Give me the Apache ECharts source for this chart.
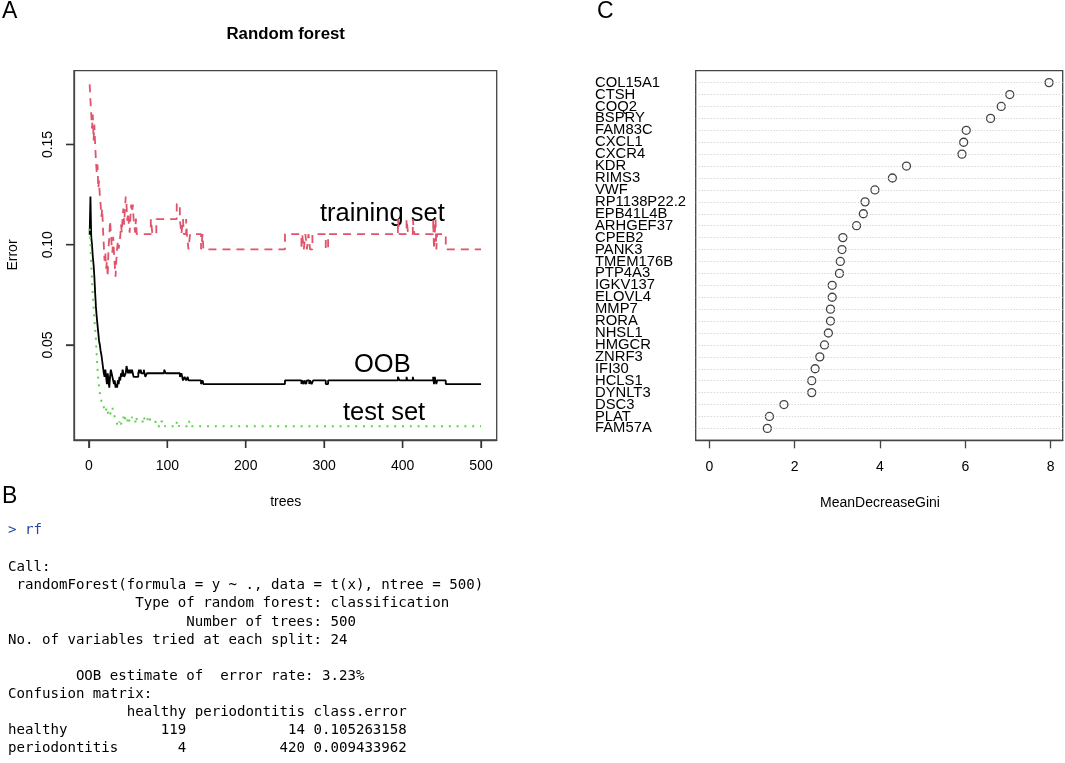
<!DOCTYPE html>
<html><head><meta charset="utf-8">
<script src="https://cdn.jsdelivr.net/npm/echarts@6/dist/echarts.min.js"></script>
<style>html,body{margin:0;padding:0;background:#fff}#c{width:1065px;height:763px}</style>
</head><body><div id="c"></div>
<script>
// Panel A: error rate vs number of trees (change points: [tree, error])
const trainingSet = [[1,0.180],[2,0.172],[3,0.165],[4,0.158],[5,0.165],[6,0.152],[7,0.160],[8,0.150],[9,0.142],[10,0.136],[11,0.140],[12,0.128],[13,0.132],[14,0.124],[15,0.120],[16,0.114],[17,0.118],[18,0.108],[19,0.100],[20,0.092],[21,0.096],[22,0.088],[23,0.092],[24,0.084],[25,0.098],[26,0.104],[27,0.112],[28,0.106],[29,0.100],[30,0.096],[31,0.104],[32,0.096],[33,0.090],[34,0.084],[35,0.092],[36,0.098],[37,0.102],[38,0.098],[40,0.104],[41,0.110],[42,0.106],[43,0.114],[44,0.118],[45,0.110],[46,0.118],[47,0.124],[48,0.120],[49,0.112],[50,0.116],[51,0.110],[52,0.106],[53,0.114],[54,0.120],[55,0.116],[56,0.120],[57,0.113],[59,0.106],[60,0.113],[61,0.1053],[79,0.1128],[81,0.1053],[86,0.1128],[112,0.1203],[116,0.1128],[118,0.1053],[120,0.1128],[121,0.1053],[124,0.1128],[125,0.1053],[127,0.0977],[129,0.1053],[143,0.0977],[145,0.1053],[146,0.0977],[250,0.1053],[271,0.0977],[272,0.1053],[274,0.0977],[276,0.1053],[278,0.0977],[280,0.1053],[282,0.0977],[285,0.1053],[302,0.0977],[305,0.1053],[394,0.1128],[396,0.1053],[405,0.1128],[407,0.1053],[413,0.1128],[415,0.1053],[439,0.1128],[440,0.0977],[442,0.1128],[443,0.0977],[444,0.1053],[455,0.0977],[500,0.0977]];
const oob = [[1,0.105],[2,0.124],[3,0.104],[4,0.100],[5,0.094],[6,0.090],[7,0.084],[8,0.076],[9,0.069],[10,0.064],[11,0.060],[12,0.056],[13,0.052],[14,0.050],[15,0.047],[16,0.045],[17,0.042],[18,0.039],[19,0.036],[20,0.0341],[21,0.0377],[22,0.0341],[23,0.0305],[24,0.0359],[25,0.0323],[26,0.0287],[27,0.0341],[28,0.0377],[29,0.0359],[30,0.0341],[31,0.0323],[32,0.0305],[33,0.0323],[34,0.0287],[35,0.0305],[36,0.0287],[37,0.0323],[38,0.0305],[39,0.0341],[40,0.0323],[41,0.0359],[42,0.0341],[43,0.0377],[44,0.0359],[45,0.0341],[47,0.0359],[48,0.0395],[49,0.0377],[50,0.0359],[51,0.0377],[52,0.0359],[53,0.0377],[54,0.0359],[55,0.0377],[56,0.0359],[57,0.0341],[63,0.0359],[64,0.0377],[65,0.0359],[66,0.0377],[67,0.0359],[70,0.0377],[71,0.0359],[72,0.0341],[74,0.0359],[96,0.0377],[98,0.0359],[116,0.0341],[118,0.0359],[120,0.0323],[122,0.0341],[124,0.0323],[126,0.0341],[127,0.0323],[143,0.0305],[145,0.0323],[146,0.0305],[250,0.0323],[271,0.0305],[272,0.0323],[274,0.0305],[275,0.0323],[277,0.0305],[278,0.0323],[281,0.0305],[282,0.0323],[284,0.0305],[286,0.0323],[302,0.0305],[305,0.0323],[394,0.0341],[396,0.0323],[405,0.0341],[406,0.0323],[413,0.0341],[414,0.0323],[439,0.0341],[440,0.0305],[441,0.0341],[443,0.0305],[444,0.0323],[455,0.0305],[500,0.0305]];
const testSet = [[1,0.108],[2,0.100],[3,0.090],[4,0.082],[5,0.075],[6,0.069],[7,0.063],[8,0.058],[9,0.053],[10,0.045],[11,0.038],[12,0.033],[13,0.029],[14,0.026],[15,0.024],[16,0.022],[17,0.0212],[19,0.0189],[21,0.0165],[23,0.0189],[24,0.0165],[26,0.0142],[28,0.0165],[30,0.0189],[31,0.0165],[33,0.0142],[35,0.0118],[37,0.0094],[39,0.0118],[40,0.0094],[42,0.0118],[44,0.0142],[45,0.0118],[47,0.0142],[49,0.0118],[50,0.0142],[52,0.0118],[55,0.0142],[56,0.0118],[60,0.0142],[62,0.0118],[70,0.0142],[72,0.0118],[75,0.0142],[78,0.0118],[85,0.0094],[92,0.0118],[97,0.0094],[112,0.0118],[115,0.0094],[125,0.0118],[128,0.0094],[500,0.0094]];
const treeTicks = [0,100,200,300,400,500];
const errorTicks = [0.05,0.10,0.15];

// Panel C: variable importance (top to bottom)
const genes = ['COL15A1','CTSH','COQ2','BSPRY','FAM83C','CXCL1','CXCR4','KDR','RIMS3','VWF','RP1138P22.2','EPB41L4B','ARHGEF37','CPEB2','PANK3','TMEM176B','PTP4A3','IGKV137','ELOVL4','MMP7','RORA','NHSL1','HMGCR','ZNRF3','IFI30','HCLS1','DYNLT3','DSC3','PLAT','FAM57A'];
const meanDecreaseGini = [7.96,7.04,6.84,6.59,6.02,5.96,5.92,4.62,4.29,3.88,3.65,3.61,3.45,3.13,3.11,3.07,3.05,2.88,2.88,2.84,2.84,2.79,2.70,2.59,2.48,2.40,2.40,1.75,1.41,1.36];
const giniTicks = [0,2,4,6,8];

// Panel B: console output
const consoleLines = [
 'Call:',
 ' randomForest(formula = y ~ ., data = t(x), ntree = 500)',
 '               Type of random forest: classification',
 '                     Number of trees: 500',
 'No. of variables tried at each split: 24',
 '',
 '        OOB estimate of  error rate: 3.23%',
 'Confusion matrix:',
 '              healthy periodontitis class.error',
 'healthy           119            14 0.105263158',
 'periodontitis       4           420 0.009433962'
];

const sans = 'Liberation Sans, Arial, sans-serif';
const mono = 'DejaVu Sans Mono, monospace';
const axisCol = '#444';
const n = genes.length;
const gridA = {left:74, top:70.7, width:422.7, height:369.3};
const xMinA = -18.96, xMaxA = 519.96, yMinA = 0.0026, yMaxA = 0.1868;

const graphics = [];
const T = (x, y, text, opt) => graphics.push({type:'text', x, y, style: Object.assign({text, fill:'#000', font: '14px ' + sans, textVerticalAlign:'middle'}, opt || {})});
// Panel letters
T(2, 12, 'A', {font: '23px ' + sans});
T(2, 497, 'B', {font: '23px ' + sans});
T(597, 12, 'C', {font: '23px ' + sans});
// Panel A texts
T(285.7, 34.5, 'Random forest', {font: 'bold 16.8px ' + sans, textAlign:'center'});
T(285.7, 502, 'trees', {font: '14px ' + sans, textAlign:'center'});
graphics.push({type:'text', x:12.7, y:255, rotation: Math.PI/2, style:{text:'Error', font:'14px ' + sans, textAlign:'center', textVerticalAlign:'middle', fill:'#000'}});
T(320, 213.5, 'training set', {font: '25.5px ' + sans});
T(354, 365, 'OOB', {font: '25.5px ' + sans});
T(343, 412.5, 'test set', {font: '25.5px ' + sans});
// Panel C axis name
T(880, 503.5, 'MeanDecreaseGini', {font: '14px ' + sans, textAlign:'center'});
// Panel B console
graphics.push({type:'text', x:8, y:530, style:{text:'> rf', font:'14.1px ' + mono, fill:'#2446a6', textVerticalAlign:'middle'}});
consoleLines.forEach((s, i) => {
  graphics.push({type:'text', x:8, y:567.7 + i*18.06, style:{text:s, font:'14.1px ' + mono, fill:'#000', textVerticalAlign:'middle'}});
});

const tick = (vals) => ({show:true, length:8, inside:false, customValues:vals, lineStyle:{color:axisCol, width:1.3}});
const line = {show:true, onZero:false, lineStyle:{color:axisCol, width:1.3}};

const chart = echarts.init(document.getElementById('c'), null, {renderer:'canvas'});
chart.setOption({
  animation: false,
  backgroundColor: '#fff',
  grid: [
    Object.assign({show:true, borderColor:axisCol, borderWidth:1.3, backgroundColor:'transparent'}, gridA),
    {left:695.7, top:70.7, width:367, height:369.6, show:true, borderColor:axisCol, borderWidth:1.3, backgroundColor:'transparent'}
  ],
  xAxis: [
    {type:'value', gridIndex:0, min:xMinA, max:xMaxA,
     axisLine:line, splitLine:{show:false}, axisTick:tick(treeTicks),
     axisLabel:{show:true, customValues:treeTicks, margin:19, fontSize:14, fontFamily:sans, color:'#000'}},
    {type:'value', gridIndex:1, min:-0.318, max:8.28,
     axisLine:line, splitLine:{show:false}, axisTick:tick(giniTicks),
     axisLabel:{show:true, customValues:giniTicks, margin:20, fontSize:14, fontFamily:sans, color:'#000'}}
  ],
  yAxis: [
    {type:'value', gridIndex:0, min:yMinA, max:yMaxA,
     axisLine:line, splitLine:{show:false}, axisTick:tick(errorTicks),
     axisLabel:{show:true, customValues:errorTicks, rotate:90, margin:19, fontSize:14, fontFamily:sans, color:'#000', formatter: v => v.toFixed(2)}},
    {type:'value', gridIndex:1, min:0, max:n+1, interval:1,
     axisLine:{show:false, onZero:false}, axisTick:{show:false}, splitLine:{show:false},
     axisLabel:{show:true, margin:100.7, align:'left', fontSize:14.8, fontFamily:sans, color:'#000',
       formatter: v => (v >= 1 && v <= n) ? genes[n - v] : ''}}
  ],
  series: [
    {type:'line', xAxisIndex:0, yAxisIndex:0, step:'end', showSymbol:false, data:trainingSet,
     lineStyle:{color:'#DF536B', width:1.8, type:[8,6]}},
    {type:'line', xAxisIndex:0, yAxisIndex:0, step:'end', showSymbol:false, data:oob,
     lineStyle:{color:'#000', width:1.8}},
    {type:'line', xAxisIndex:0, yAxisIndex:0, step:'end', showSymbol:false, data:testSet,
     lineStyle:{color:'#61D04F', width:2, type:[2,5.8]}},
    {type:'scatter', xAxisIndex:1, yAxisIndex:1, symbol:'circle', symbolSize:8, z:3,
     data: meanDecreaseGini.map((v, i) => [v, n - i]),
     itemStyle:{color:'rgba(255,255,255,0)', borderColor:'#111', borderWidth:1.3},
     markLine:{silent:true, symbol:'none', label:{show:false}, animation:false,
       lineStyle:{color:'#c8c8c8', type:[1,2], width:1},
       data: genes.map((g, i) => ({yAxis: n - i}))}}
  ],
  graphic: graphics
});

// Panel A tick marks, placed through the chart's own axis scales (linear fallback)
const finder = {xAxisIndex:0, yAxisIndex:0};
const toPx = (x, y) => {
  let p = null;
  try { p = chart.convertToPixel(finder, [x, y]); } catch (e) { p = null; }
  if (!p || !isFinite(p[0]) || !isFinite(p[1])) {
    p = [gridA.left + (x - xMinA) / (xMaxA - xMinA) * gridA.width,
         gridA.top + (yMaxA - y) / (yMaxA - yMinA) * gridA.height];
  }
  return p;
};
const tickStyle = {stroke:'#333', lineWidth:1.4};
treeTicks.forEach(v => {
  const p = toPx(v, yMinA);
  graphics.push({type:'line', zlevel:1, z:100, shape:{x1:p[0], y1:gridA.top + gridA.height, x2:p[0], y2:gridA.top + gridA.height + 8}, style:tickStyle});
});
errorTicks.forEach(v => {
  const p = toPx(xMinA, v);
  graphics.push({type:'line', zlevel:1, z:100, shape:{x1:gridA.left - 8, y1:p[1], x2:gridA.left, y2:p[1]}, style:tickStyle});
});
chart.setOption({graphic: graphics});
</script>
</body></html>
